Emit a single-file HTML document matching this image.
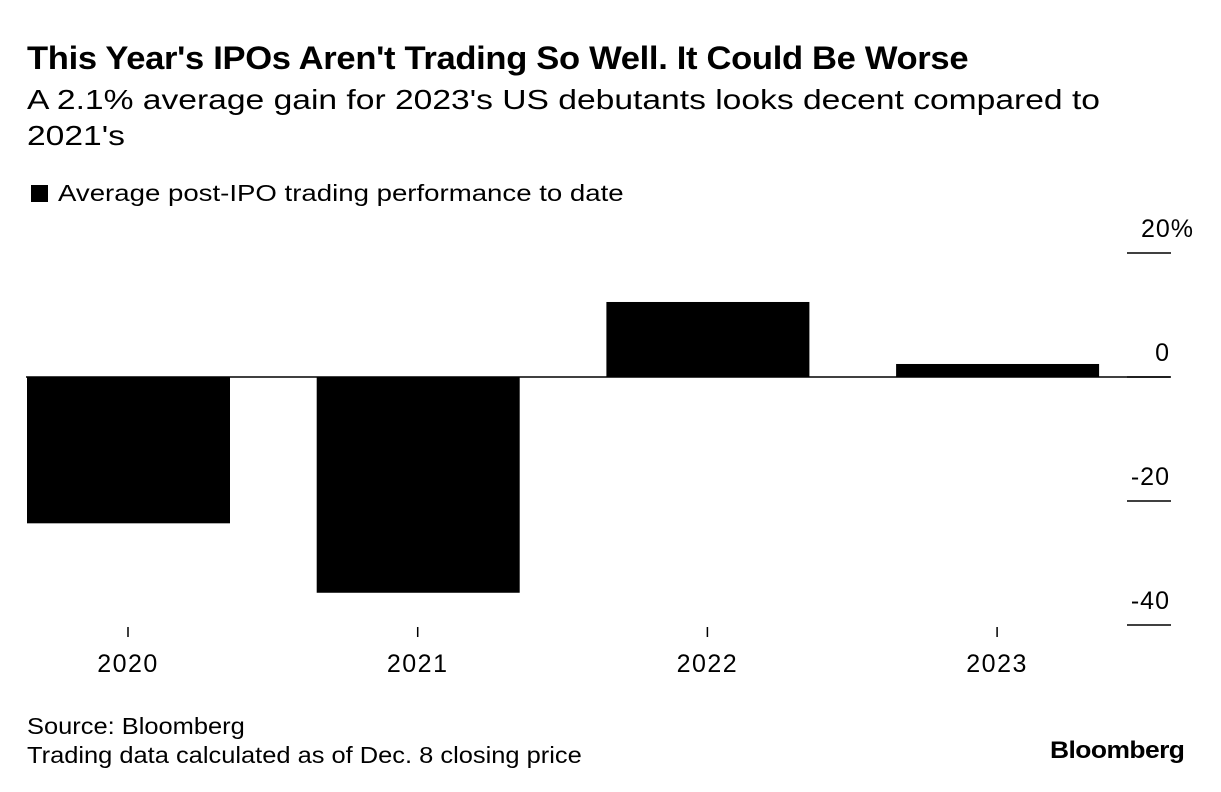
<!DOCTYPE html>
<html><head><meta charset="utf-8"><style>
body{margin:0;background:#fff;font-family:"Liberation Sans",sans-serif;color:#000}
#wrap{position:relative;width:1221px;height:792px;overflow:hidden}
.t{position:absolute;white-space:nowrap;transform-origin:0 0}
</style></head><body><div id="wrap">
<div class="t" style="left:27px;top:40px;font-size:32px;font-weight:bold;letter-spacing:-0.3px;transform:scaleX(1.08)">This Year's IPOs Aren't Trading So Well. It Could Be Worse</div>
<div class="t" style="left:27px;top:82px;font-size:28px;line-height:36px;transform:scaleX(1.2)">A 2.1% average gain for 2023's US debutants looks decent compared to<br>2021's</div>
<div class="t" style="left:31px;top:185px;width:17px;height:17px;background:#000"></div>
<div class="t" style="left:58px;top:180px;font-size:23px;transform:scaleX(1.2)">Average post-IPO trading performance to date</div>
<svg id="plot" width="1221" height="792" style="position:absolute;left:0;top:0"></svg>
<div class="t" style="left:27px;top:712px;font-size:23px;line-height:29px;transform:scaleX(1.106)">Source: Bloomberg<br>Trading data calculated as of Dec. 8 closing price</div>
<div class="t" style="left:1050px;top:737px;font-size:24px;font-weight:bold;letter-spacing:-0.5px;transform:scaleX(1.1)">Bloomberg</div>
</div>
<script>
const categories=["2020","2021","2022","2023"];
const values=[-23.6,-34.8,12.1,2.1];
const ticks=[20,0,-20,-40];
const tickLabels=["20%","0","-20","-40"];
const svg=document.getElementById('plot');const NS="http://www.w3.org/2000/svg";
const y=v=>377-v*6.2;
const xc=i=>128+i*289.7;
const bw=203;
function mk(t,a){const e=document.createElementNS(NS,t);for(const k in a)e.setAttribute(k,a[k]);svg.appendChild(e);return e;}
categories.forEach((c,i)=>{
 const v=values[i];
 const r=mk('rect',{x:xc(i)-bw/2+0.5,y:Math.min(y(v),y(0)),width:bw,height:Math.abs(y(v)-y(0)),fill:'#000'});
 
 
 const tk=mk('line',{x1:xc(i),x2:xc(i),y1:627,y2:637,stroke:'#000','stroke-width':1.5});
 
 
 const t=mk('text',{x:xc(i),y:672,'text-anchor':'middle','font-size':25,'letter-spacing':1.5,'font-family':'Liberation Sans'});t.textContent=c;
 
 
});
const zl=mk('line',{x1:26,x2:1170,y1:y(0),y2:y(0),stroke:'#000','stroke-width':1.5});


ticks.forEach((v,i)=>{
 const l=mk('line',{x1:1127,x2:1171,y1:y(v),y2:y(v),stroke:'#000','stroke-width':1.5});
 
 
 const lab=tickLabels[i];
 const t=mk('text',{x:lab.endsWith('%')?1194:1170,y:y(v)-16,'text-anchor':'end','font-size':25,'letter-spacing':1,'font-family':'Liberation Sans'});t.textContent=lab;
 
 
});
</script></body></html>
